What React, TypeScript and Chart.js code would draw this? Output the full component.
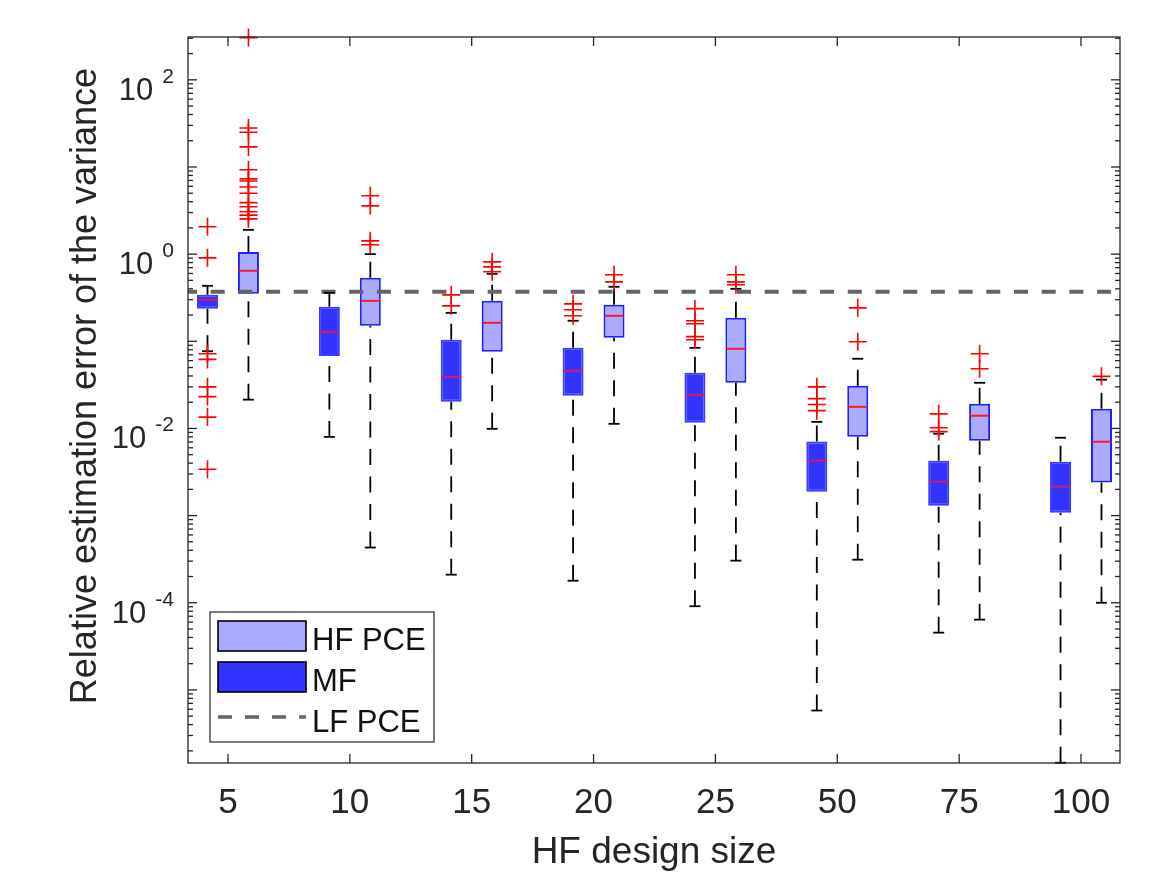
import React, { useEffect, useRef } from 'react';
import { Chart, registerables } from 'chart.js';

Chart.register(...registerables);

// ---------------- data ----------------
const CATEGORIES = ['5', '10', '15', '20', '25', '50', '75', '100'];

// MF (multi-fidelity) box statistics
const MF_LOW = [0.077, 0.008, 0.00021, 0.000179, 0.0000912, 0.0000058, 0.0000454, 0.00000146];
const MF_Q1 = [0.236, 0.068, 0.0202, 0.0237, 0.0116, 0.00188, 0.0013, 0.00108];
const MF_MED = [0.299, 0.128, 0.039, 0.0459, 0.0244, 0.00427, 0.00245, 0.00215];
const MF_Q3 = [0.341, 0.249, 0.104, 0.0842, 0.0436, 0.00707, 0.00427, 0.00415];
const MF_HIGH = [0.433, 0.36, 0.212, 0.172, 0.0842, 0.0119, 0.0087, 0.00782];
const MF_OUTLIERS = [
  [2.06, 0.907, 0.072, 0.062, 0.03, 0.0232, 0.0135, 0.0034],
  [],
  [0.341, 0.255],
  [0.269, 0.23, 0.196],
  [0.237, 0.172, 0.159, 0.113, 0.104],
  [0.03, 0.022, 0.0188, 0.016],
  [0.0147, 0.0102, 0.0092],
  [],
];

// HF PCE box statistics
const HF_LOW = [0.0214, 0.00043, 0.0099, 0.0113, 0.000304, 0.000312, 0.000064, 0.0001];
const HF_Q1 = [0.35, 0.151, 0.076, 0.11, 0.0334, 0.00803, 0.00724, 0.00239];
const HF_MED = [0.644, 0.291, 0.163, 0.196, 0.082, 0.0177, 0.014, 0.00704];
const HF_Q3 = [1.06, 0.535, 0.291, 0.262, 0.186, 0.0309, 0.0192, 0.0168];
const HF_HIGH = [1.9, 1.0, 0.594, 0.422, 0.4, 0.063, 0.0334, 0.0363];
const HF_OUTLIERS = [
  [305, 28, 25, 17, 9.3, 7.3, 6.9, 5.9, 5.0, 3.9, 3.5, 3.06, 2.8, 2.54],
  [4.67, 3.58, 1.42, 1.28],
  [0.816, 0.715, 0.627],
  [0.579, 0.481],
  [0.579, 0.481, 0.445],
  [0.242, 0.0987],
  [0.0719, 0.0484],
  [0.0396],
];

const LF_PCE = 0.37;

const Y_MIN = 1.45e-6;
const Y_MAX = 310;
const Y_LABEL_TICKS = [1e2, 1e0, 1e-2, 1e-4];
const X_MIN = 0.672;
const X_MAX = 8.32;
const OFFSET = 0.168; // MF left of tick, HF right of tick

const LEGEND_ITEMS = ['HF PCE', 'MF', 'LF PCE'];

// ---------------- styling ----------------
const FONT = '"Liberation Sans", Arial, Helvetica, sans-serif';
const AXIS_COLOR = 'rgb(38,38,38)';
const HF_FILL = 'rgb(170,170,255)';
const MF_FILL = 'rgb(51,51,255)';
const BOX_EDGE = 'rgb(30,30,255)';
const LF_COLOR = 'rgb(100,100,100)';

const pos = (i: number, side: number) => i + 1 + side * OFFSET;

const boxData = (q1: number[], q3: number[], side: number) =>
  q1.map((v, i) => ({ x: pos(i, side), y: [v, q3[i]] }));

const pointData = (vals: number[], side: number) => vals.map((v, i) => ({ x: pos(i, side), y: v }));

const whiskerData = (lo: number[], q1: number[], q3: number[], hi: number[], side: number) =>
  lo.flatMap((v, i) => {
    const x = pos(i, side);
    return [
      { x, y: q3[i] },
      { x, y: hi[i] },
      { x, y: null },
      { x, y: v },
      { x, y: q1[i] },
      { x, y: null },
    ];
  });

const capData = (lo: number[], hi: number[], side: number) =>
  lo.flatMap((v, i) => [
    { x: pos(i, side), y: v },
    { x: pos(i, side), y: hi[i] },
  ]);

const outlierData = (outs: number[][], side: number) =>
  outs.flatMap((arr, i) => arr.map((v) => ({ x: pos(i, side), y: v })));

const matlabAxes = {
  id: 'matlabAxes',
  afterDatasetsDraw(chart: any) {
    const { ctx, chartArea: a, scales } = chart;
    const xs = scales.x;
    const ys = scales.y;
    ctx.save();

    // axes box
    ctx.strokeStyle = AXIS_COLOR;
    ctx.lineWidth = 1.3;
    ctx.setLineDash([]);
    ctx.strokeRect(a.left, a.top, a.right - a.left, a.bottom - a.top);

    const seg = (x1: number, y1: number, x2: number, y2: number) => {
      ctx.beginPath();
      ctx.moveTo(x1, y1);
      ctx.lineTo(x2, y2);
      ctx.stroke();
    };

    // x ticks + labels
    ctx.fillStyle = AXIS_COLOR;
    ctx.font = `35px ${FONT}`;
    ctx.textAlign = 'center';
    ctx.textBaseline = 'alphabetic';
    CATEGORIES.forEach((c, i) => {
      const px = xs.getPixelForValue(i + 1);
      seg(px, a.bottom, px, a.bottom - 9);
      seg(px, a.top, px, a.top + 9);
      ctx.fillText(c, px, a.bottom + 50);
    });

    // y ticks (major + minor, both sides)
    const e0 = Math.floor(Math.log10(Y_MIN));
    const e1 = Math.ceil(Math.log10(Y_MAX));
    for (let e = e0; e <= e1; e++) {
      for (let k = 1; k <= 9; k++) {
        const v = k * Math.pow(10, e);
        if (v < Y_MIN || v > Y_MAX) continue;
        const py = ys.getPixelForValue(v);
        const len = k === 1 ? 9 : 5;
        seg(a.left, py, a.left + len, py);
        seg(a.right, py, a.right - len, py);
      }
    }

    // y labels with superscripts
    Y_LABEL_TICKS.forEach((v) => {
      const py = ys.getPixelForValue(v);
      const sup = String(Math.round(Math.log10(v)));
      ctx.font = `21px ${FONT}`;
      ctx.textAlign = 'right';
      const supRight = a.left - 14;
      const supW = ctx.measureText(sup).width;
      ctx.fillText(sup, supRight, py + 3);
      ctx.font = `31px ${FONT}`;
      ctx.fillText('10', supRight - supW - 9, py + 20);
    });

    // axis titles
    ctx.font = `37px ${FONT}`;
    ctx.textAlign = 'center';
    ctx.fillText('HF design size', (a.left + a.right) / 2, a.bottom + 100);
    ctx.save();
    ctx.font = `36px ${FONT}`;
    ctx.translate(96, 386);
    ctx.rotate(-Math.PI / 2);
    ctx.fillText('Relative estimation error of the variance', 0, 0);
    ctx.restore();

    // legend
    const lx = a.left + 22;
    const ly = a.bottom - 151;
    const lw = 224;
    const lh = 130;
    ctx.fillStyle = '#ffffff';
    ctx.fillRect(lx, ly, lw, lh);
    ctx.strokeStyle = AXIS_COLOR;
    ctx.lineWidth = 1.2;
    ctx.strokeRect(lx, ly, lw, lh);

    ctx.lineWidth = 1.6;
    ctx.strokeStyle = '#000000';
    ctx.fillStyle = HF_FILL;
    ctx.fillRect(lx + 8, ly + 9, 88, 30);
    ctx.strokeRect(lx + 8, ly + 9, 88, 30);
    ctx.fillStyle = MF_FILL;
    ctx.fillRect(lx + 8, ly + 50, 88, 30);
    ctx.strokeRect(lx + 8, ly + 50, 88, 30);

    ctx.strokeStyle = LF_COLOR;
    ctx.lineWidth = 3.5;
    ctx.setLineDash([14, 13]);
    seg(lx + 8, ly + 105, lx + 96, ly + 105);
    ctx.setLineDash([]);

    ctx.font = `31px ${FONT}`;
    ctx.textAlign = 'left';
    ctx.fillStyle = '#111111';
    ctx.fillText(LEGEND_ITEMS[0], lx + 102, ly + 38);
    ctx.fillText(LEGEND_ITEMS[1], lx + 102, ly + 79);
    ctx.fillText(LEGEND_ITEMS[2], lx + 102, ly + 120);

    ctx.restore();
  },
};

export default function App() {
  const ref = useRef<HTMLCanvasElement | null>(null);

  useEffect(() => {
    if (!ref.current) return;
    const whiskerStyle = {
      type: 'scatter' as const,
      showLine: true,
      borderColor: '#000000',
      borderWidth: 1.8,
      borderDash: [16, 11.5],
      pointRadius: 0,
      spanGaps: false,
      order: 6,
    };
    const chart = new Chart(ref.current, {
      type: 'bar',
      data: {
        datasets: [
          // outliers (top-most)
          {
            type: 'scatter',
            data: outlierData(MF_OUTLIERS, -1),
            pointStyle: 'cross',
            pointRadius: 9,
            pointBorderWidth: 1.6,
            pointBorderColor: 'rgb(255,0,0)',
            pointBackgroundColor: 'rgb(255,0,0)',
            clip: false,
            order: 0,
          } as any,
          {
            type: 'scatter',
            data: outlierData(HF_OUTLIERS, 1),
            pointStyle: 'cross',
            pointRadius: 9,
            pointBorderWidth: 1.6,
            pointBorderColor: 'rgb(255,0,0)',
            pointBackgroundColor: 'rgb(255,0,0)',
            clip: false,
            order: 0,
          } as any,
          // medians
          {
            type: 'scatter',
            data: pointData(MF_MED, -1),
            pointStyle: 'line',
            pointRadius: 9.5,
            pointBorderWidth: 2,
            pointBorderColor: 'rgb(215,25,95)',
            order: 1,
          } as any,
          {
            type: 'scatter',
            data: pointData(HF_MED, 1),
            pointStyle: 'line',
            pointRadius: 9.5,
            pointBorderWidth: 2,
            pointBorderColor: 'rgb(255,25,25)',
            order: 1,
          } as any,
          // whisker caps
          {
            type: 'scatter',
            data: capData(MF_LOW, MF_HIGH, -1),
            pointStyle: 'line',
            pointRadius: 5.5,
            pointBorderWidth: 1.8,
            pointBorderColor: '#000000',
            clip: false,
            order: 2,
          } as any,
          {
            type: 'scatter',
            data: capData(HF_LOW, HF_HIGH, 1),
            pointStyle: 'line',
            pointRadius: 5.5,
            pointBorderWidth: 1.8,
            pointBorderColor: '#000000',
            clip: false,
            order: 2,
          } as any,
          // LF PCE reference line
          {
            type: 'scatter',
            data: [
              { x: X_MIN, y: LF_PCE },
              { x: X_MAX, y: LF_PCE },
            ],
            showLine: true,
            borderColor: LF_COLOR,
            borderWidth: 3.8,
            borderDash: [14, 13.7],
            borderDashOffset: 5,
            pointRadius: 0,
            order: 3,
          } as any,
          // boxes
          {
            type: 'bar',
            data: boxData(MF_Q1, MF_Q3, -1),
            backgroundColor: MF_FILL,
            borderColor: 'rgb(60,60,255)',
            borderWidth: 2,
            borderSkipped: false,
            maxBarThickness: 21,
            grouped: false,
            order: 4,
          } as any,
          {
            type: 'bar',
            data: boxData(HF_Q1, HF_Q3, 1),
            backgroundColor: HF_FILL,
            borderColor: BOX_EDGE,
            borderWidth: 2,
            borderSkipped: false,
            maxBarThickness: 21,
            grouped: false,
            order: 4,
          } as any,
          // whiskers
          { ...whiskerStyle, data: whiskerData(MF_LOW, MF_Q1, MF_Q3, MF_HIGH, -1) } as any,
          { ...whiskerStyle, data: whiskerData(HF_LOW, HF_Q1, HF_Q3, HF_HIGH, 1) } as any,
        ],
      },
      options: {
        animation: false,
        responsive: true,
        maintainAspectRatio: false,
        events: [],
        layout: { padding: { left: 188, top: 37, right: 42, bottom: 110 } },
        plugins: {
          legend: { display: false },
          tooltip: { enabled: false },
          title: { display: false },
        },
        scales: {
          x: {
            type: 'linear',
            display: false,
            min: X_MIN,
            max: X_MAX,
            offset: false,
          },
          y: {
            type: 'logarithmic',
            display: false,
            min: Y_MIN,
            max: Y_MAX,
          },
        },
      },
      plugins: [matlabAxes],
    });
    return () => chart.destroy();
  }, []);

  return (
    <div
      style={{
        position: 'fixed',
        left: 0,
        top: 0,
        width: 1162,
        height: 873,
        background: '#ffffff',
      }}
    >
      <canvas ref={ref} />
    </div>
  );
}
